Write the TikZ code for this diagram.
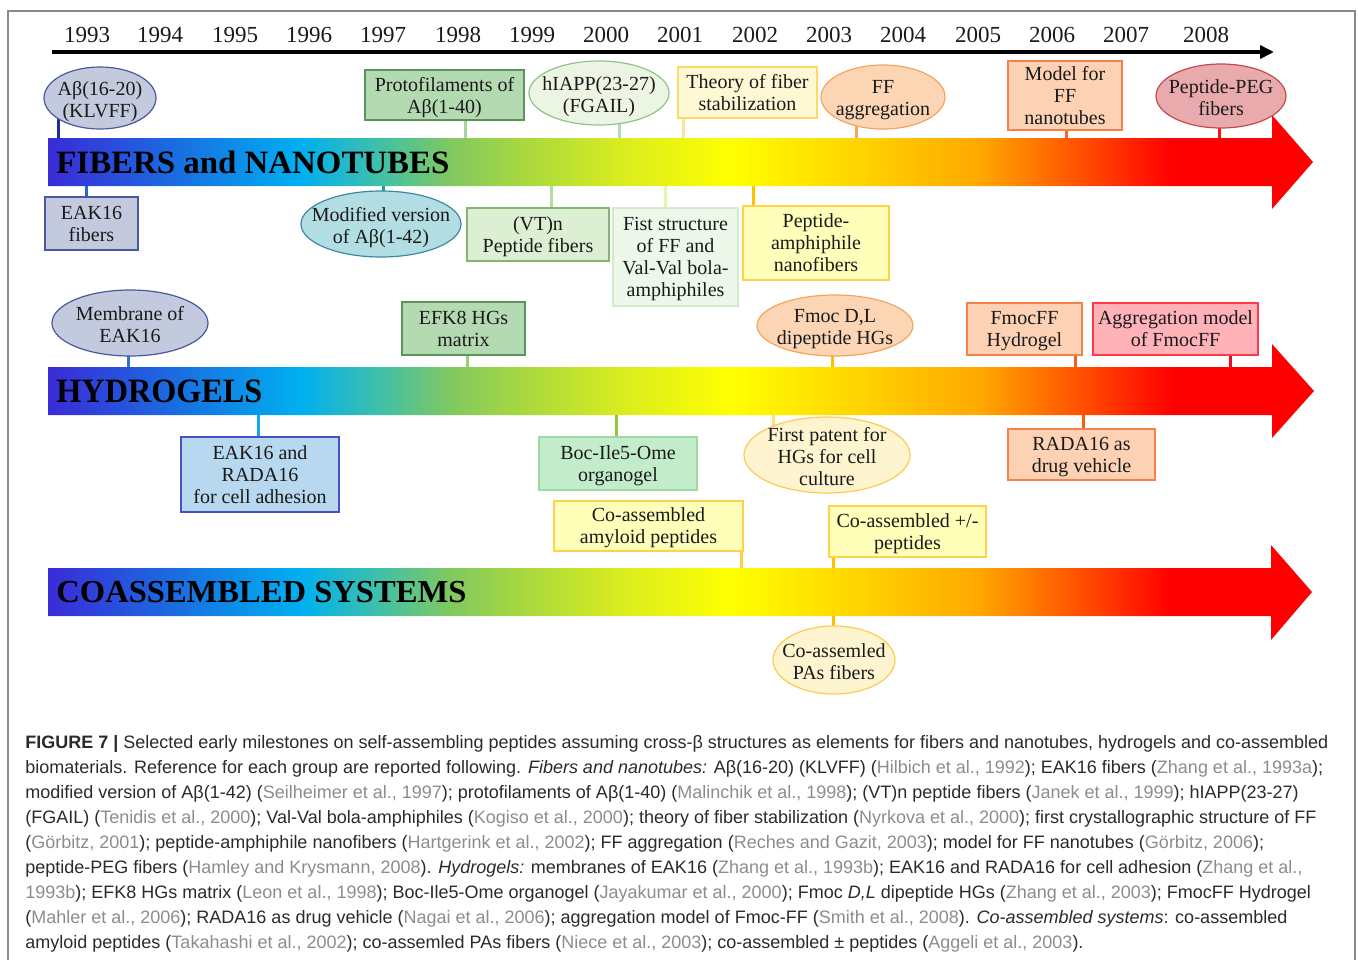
\documentclass[tikz,border=0pt]{standalone}
\usepackage{fontspec}
\setmainfont{Liberation Serif}
\newfontfamily\capsans{Liberation Sans}
\usetikzlibrary{shapes.geometric,arrows.meta,backgrounds}

\definecolor{rb0}{HTML}{3A2BD6}
\definecolor{rb1}{HTML}{1B6AE0}
\definecolor{rb2}{HTML}{00B0F0}
\definecolor{rb3}{HTML}{40C0A8}
\definecolor{rb4}{HTML}{80C860}
\definecolor{rb5}{HTML}{A8D840}
\definecolor{rb6}{HTML}{D8EC20}
\definecolor{rb7}{HTML}{FFFF00}
\definecolor{rb8}{HTML}{FFD000}
\definecolor{rb9}{HTML}{FFA800}
\definecolor{rb10}{HTML}{FF5000}
\definecolor{rb11}{HTML}{FF0000}
\pgfdeclarehorizontalshading{rainbowband}{100bp}{color(0bp)=(rb0); color(25bp)=(rb0); color(29.8bp)=(rb1); color(35bp)=(rb2); color(38.1bp)=(rb3); color(40.9bp)=(rb4); color(43.7bp)=(rb5); color(47.6bp)=(rb6); color(52bp)=(rb7); color(57.5bp)=(rb8); color(61.8bp)=(rb9); color(65.8bp)=(rb10); color(69.4bp)=(rb11); color(100bp)=(rb11)}

\definecolor{framegray}{HTML}{8A8A8A}
\definecolor{nodetext}{HTML}{1A1A1A}
\definecolor{captext}{HTML}{2A2A2A}
\definecolor{citegray}{HTML}{8C8C8C}
% node colours
\definecolor{lavfill}{HTML}{C3CADE}
\definecolor{lavdraw}{HTML}{4A58A0}
\definecolor{gfill}{HTML}{B4DAB2}
\definecolor{gdraw}{HTML}{5A945A}
\definecolor{pgfill}{HTML}{ECF5E4}
\definecolor{pgdraw}{HTML}{92C28A}
\definecolor{crfill}{HTML}{FFF8D4}
\definecolor{crdraw}{HTML}{FFD966}
\definecolor{pefill}{HTML}{FCD6B4}
\definecolor{pedraw}{HTML}{F4A460}
\definecolor{orfill}{HTML}{FDD2B4}
\definecolor{ordraw}{HTML}{F4824A}
\definecolor{pkfill}{HTML}{E8AAAC}
\definecolor{pkdraw}{HTML}{C8484C}
\definecolor{tlfill}{HTML}{B2DDE2}
\definecolor{tldraw}{HTML}{3C88A8}
\definecolor{lgfill}{HTML}{DCEFD2}
\definecolor{lgdraw}{HTML}{84B474}
\definecolor{vgfill}{HTML}{EEF8EA}
\definecolor{vgdraw}{HTML}{D2EACB}
\definecolor{yefill}{HTML}{FFFFBA}
\definecolor{yedraw}{HTML}{FFD24A}
\definecolor{rdfill}{HTML}{FFB2B8}
\definecolor{rddraw}{HTML}{FF3A48}
\definecolor{bufill}{HTML}{B8D8F0}
\definecolor{budraw}{HTML}{4450C4}
\definecolor{mgfill}{HTML}{C2ECCA}
\definecolor{mgdraw}{HTML}{A2D8A2}
\definecolor{cyfill}{HTML}{FFF4D0}
\definecolor{cydraw}{HTML}{FFCA52}
% connector colours
\definecolor{k1}{HTML}{1C2C9C}
\definecolor{k2}{HTML}{A6D49A}
\definecolor{k3}{HTML}{B6D8C0}
\definecolor{k4}{HTML}{FFE39A}
\definecolor{k5}{HTML}{F6A85A}
\definecolor{k6}{HTML}{F26A26}
\definecolor{k7}{HTML}{FF1010}
\definecolor{k8}{HTML}{2266D8}
\definecolor{k9}{HTML}{16A0A0}
\definecolor{k10}{HTML}{B4DCA6}
\definecolor{k11}{HTML}{E2F8A8}
\definecolor{k12}{HTML}{FFC000}
\definecolor{k13}{HTML}{3070D8}
\definecolor{k14}{HTML}{96D070}
\definecolor{k15}{HTML}{F26020}
\definecolor{k16}{HTML}{E81020}
\definecolor{k17}{HTML}{10A8E8}
\definecolor{k18}{HTML}{90C840}
\definecolor{k19}{HTML}{FFE07A}
\definecolor{k20}{HTML}{FF5A10}
\definecolor{k21}{HTML}{FFD040}

\newcommand{\ct}[1]{\textcolor{citegray}{#1}}
\newcommand{\linkto}[4]{\draw[connline,draw=#4] (#1.center) ++(#2,0) coordinate (ctmp) -- (ctmp |- #3);}

\begin{document}
\begin{tikzpicture}[x=0.5pt,y=-0.5pt,
  rbox/.style={draw, rectangle, line width=0.6pt, inner sep=0pt, align=center, text=nodetext, text depth=0pt, font=\fontsize{10}{11}\selectfont},
  oval/.style={draw, ellipse, line width=0.6pt, inner sep=0pt},
  lbl/.style={align=center, inner sep=0pt, text=nodetext, text depth=0pt, yshift=-0.6pt, font=\fontsize{10}{11}\selectfont},
  year/.style={inner sep=0pt, text=nodetext, font=\fontsize{11.5}{13}\selectfont},
  connline/.style={line width=1.5pt},
  band/.style={shading=rainbowband, draw=none},
  heading/.style={anchor=west, inner sep=0pt, text=black},
  capline/.style={anchor=base west, inner sep=0pt, text=captext, font=\capsans\fontsize{9}{12.5}\selectfont}]

\useasboundingbox (0,0) rectangle (1358,959);
\draw[framegray, line width=0.7pt] (8,965) -- (8,11) -- (1355,11) -- (1355,965);

% timeline
\foreach \yr/\xx in {1993/87,1994/160,1995/235,1996/309,1997/383,1998/458,1999/532,2000/606,2001/680,2002/755,2003/829,2004/903,2005/978,2006/1052,2007/1126,2008/1206}
  \node[year] (y\yr) at (\xx,35) {\yr};
\coordinate (tlS) at (52,52);
\coordinate (tlE) at (1274,52);
\draw[line width=1.8pt, -{Triangle[length=7pt,width=6.5pt]}] (tlS) -- (tlE);

% band edges
\coordinate (fibT) at (0,138); \coordinate (fibB) at (0,186);
\coordinate (hydT) at (0,367); \coordinate (hydB) at (0,415);
\coordinate (coT) at (0,568);  \coordinate (coB) at (0,616);

% bands
\path[band] (48,138) -- (1272,138) -- (1272,115) -- (1313,162) -- (1272,209) -- (1272,186) -- (48,186) -- cycle;
\path[band] (48,367) -- (1272,367) -- (1272,344) -- (1314,391) -- (1272,438) -- (1272,415) -- (48,415) -- cycle;
\path[band] (48,568) -- (1271,568) -- (1271,545) -- (1312,592) -- (1271,640) -- (1271,616) -- (48,616) -- cycle;

\node[heading] (hfib) at (56,162) {\resizebox{196.5pt}{11.3pt}{\bfseries FIBERS and NANOTUBES}};
\node[heading] (hhyd) at (56,391) {\resizebox{103pt}{11.3pt}{\bfseries HYDROGELS}};
\node[heading] (hco) at (56,592) {\resizebox{205pt}{10.6pt}{\bfseries COASSEMBLED SYSTEMS}};

% ---- fibers: above
\node[oval, fill=lavfill, draw=lavdraw, minimum width=56pt, minimum height=31pt] (ab) at (100,98) {};
\node[lbl] at (ab) {Aβ(16-20)\\(KLVFF)};
\node[rbox, fill=gfill, draw=gdraw, minimum width=79.5pt, minimum height=25pt] (proto) at (444.5,95) {Protofilaments of\\Aβ(1-40)};
\node[oval, fill=pgfill, draw=pgdraw, minimum width=70pt, minimum height=32pt] (hiapp) at (599,93) {};
\node[lbl] at (hiapp) {hIAPP(23-27)\\(FGAIL)};
\node[rbox, fill=crfill, draw=crdraw, minimum width=69.5pt, minimum height=25.5pt] (theory) at (747.5,92.5) {Theory of fiber\\stabilization};
\node[oval, fill=pefill, draw=pedraw, minimum width=62pt, minimum height=32pt] (ffagg) at (883,97) {};
\node[lbl] at (ffagg) {FF\\aggregation};
\node[rbox, fill=orfill, draw=ordraw, minimum width=57pt, minimum height=34.5pt] (model) at (1065,95.5) {Model for\\FF\\nanotubes};
\node[oval, fill=pkfill, draw=pkdraw, minimum width=65pt, minimum height=32pt] (peg) at (1221,96) {};
\node[lbl] at (peg) {Peptide-PEG\\fibers};

% ---- fibers: below
\node[rbox, fill=lavfill, draw=lavdraw, minimum width=46.5pt, minimum height=26.5pt] (eak) at (91.5,223.5) {EAK16\\fibers};
\node[oval, fill=tlfill, draw=tldraw, minimum width=80pt, minimum height=33pt] (modv) at (381,224) {};
\node[lbl] at (modv) {Modified version\\of Aβ(1-42)};
\node[rbox, fill=lgfill, draw=lgdraw, minimum width=71pt, minimum height=26.5pt] (vtn) at (538,234.5) {(VT)n\\Peptide fibers};
\node[rbox, fill=vgfill, draw=vgdraw, minimum width=62.5pt, minimum height=49pt] (fist) at (675.5,257) {Fist structure\\of FF and\\Val-Val bola-\\amphiphiles};
\node[rbox, fill=yefill, draw=yedraw, minimum width=73pt, minimum height=37pt] (pa) at (816,243) {Peptide-\\amphiphile\\nanofibers};

% ---- hydrogels: above
\node[oval, fill=lavfill, draw=lavdraw, minimum width=78pt, minimum height=33pt] (memb) at (130,323) {};
\node[lbl] at (memb) {Membrane of\\EAK16};
\node[rbox, fill=gfill, draw=gdraw, minimum width=61.5pt, minimum height=26.5pt] (efk) at (463.5,328.5) {EFK8 HGs\\matrix};
\node[oval, fill=pefill, draw=pedraw, minimum width=78pt, minimum height=30.5pt] (fmocdl) at (835,325.5) {};
\node[lbl] at (fmocdl) {Fmoc D,L\\dipeptide HGs};
\node[rbox, fill=orfill, draw=ordraw, minimum width=57.5pt, minimum height=26pt] (fmocff) at (1024.5,329) {FmocFF\\Hydrogel};
\node[rbox, fill=rdfill, draw=rddraw, minimum width=82.5pt, minimum height=26pt] (aggm) at (1175.5,329) {Aggregation model\\of FmocFF};

% ---- hydrogels: below
\node[rbox, fill=bufill, draw=budraw, minimum width=79pt, minimum height=37.5pt] (eakrada) at (260,474.5) {EAK16 and\\RADA16\\for cell adhesion};
\node[rbox, fill=mgfill, draw=mgdraw, minimum width=79pt, minimum height=26.5pt] (boc) at (618,463.5) {Boc-Ile5-Ome\\organogel};
\node[oval, fill=cyfill, draw=cydraw, minimum width=83pt, minimum height=38pt] (patent) at (827,455) {};
\node[lbl] at (patent) {First patent for\\HGs for cell\\culture};
\node[rbox, fill=orfill, draw=ordraw, minimum width=73.5pt, minimum height=25.5pt] (rada) at (1081.5,454.5) {RADA16 as\\drug vehicle};

% ---- coassembled
\node[rbox, fill=yefill, draw=yedraw, minimum width=94.5pt, minimum height=25pt] (coamy) at (648.5,526) {Co-assembled\\amyloid peptides};
\node[rbox, fill=yefill, draw=yedraw, minimum width=78.5pt, minimum height=25.5pt] (copm) at (907.5,531.5) {Co-assembled +/-\\peptides};
\node[oval, fill=cyfill, draw=cydraw, minimum width=61pt, minimum height=34pt] (copa) at (834,660) {};
\node[lbl] at (copa) {Co-assemled\\PAs fibers};

% ---- connectors
\begin{scope}[on background layer]
\linkto{ab}{-42}{fibT}{k1}
\linkto{proto}{20.5}{fibT}{k2}
\linkto{hiapp}{20}{fibT}{k3}
\linkto{theory}{-64.5}{fibT}{k4}
\linkto{ffagg}{-27}{fibT}{k5}
\linkto{model}{1}{fibT}{k6}
\linkto{peg}{-2}{fibT}{k7}
\linkto{eak}{-5.5}{fibB}{k8}
\linkto{modv}{2}{fibB}{k9}
\linkto{vtn}{13}{fibB}{k10}
\linkto{fist}{-10.5}{fibB}{k11}
\linkto{pa}{-63}{fibB}{k12}
\linkto{memb}{-2}{hydT}{k13}
\linkto{efk}{3.5}{hydT}{k14}
\linkto{fmocdl}{-3}{hydT}{k12}
\linkto{fmocff}{50.5}{hydT}{k15}
\linkto{aggm}{54.5}{hydT}{k16}
\linkto{eakrada}{-2}{hydB}{k17}
\linkto{boc}{-2}{hydB}{k18}
\linkto{patent}{-54}{hydB}{k19}
\linkto{rada}{1.5}{hydB}{k20}
\linkto{coamy}{92.5}{coT}{k21}
\linkto{copm}{-74.5}{coT}{k12}
\linkto{copa}{-1}{coB}{k12}
\end{scope}

% ---- caption
\node[capline] (cap1) at (25,748) {\textbf{FIGURE 7 |} Selected early milestones on self-assembling peptides assuming cross-β structures as elements for fibers and nanotubes, hydrogels and co-assembled};
\node[capline] (cap2) at (25,773) {biomaterials. Reference for each group are reported following. \textit{Fibers and nanotubes:} Aβ(16-20) (KLVFF) (\ct{Hilbich et al., 1992}); EAK16 fibers (\ct{Zhang et al., 1993a});};
\node[capline] (cap3) at (25,798) {modified version of Aβ(1-42) (\ct{Seilheimer et al., 1997}); protofilaments of Aβ(1-40) (\ct{Malinchik et al., 1998}); (VT)n peptide fibers (\ct{Janek et al., 1999}); hIAPP(23-27)};
\node[capline] (cap4) at (25,823) {(FGAIL) (\ct{Tenidis et al., 2000}); Val-Val bola-amphiphiles (\ct{Kogiso et al., 2000}); theory of fiber stabilization (\ct{Nyrkova et al., 2000}); first crystallographic structure of FF};
\node[capline] (cap5) at (25,848) {(\ct{Görbitz, 2001}); peptide-amphiphile nanofibers (\ct{Hartgerink et al., 2002}); FF aggregation (\ct{Reches and Gazit, 2003}); model for FF nanotubes (\ct{Görbitz, 2006});};
\node[capline] (cap6) at (25,873) {peptide-PEG fibers (\ct{Hamley and Krysmann, 2008}). \textit{Hydrogels:} membranes of EAK16 (\ct{Zhang et al., 1993b}); EAK16 and RADA16 for cell adhesion (\ct{Zhang et al.,}};
\node[capline] (cap7) at (25,898) {\ct{1993b}); EFK8 HGs matrix (\ct{Leon et al., 1998}); Boc-Ile5-Ome organogel (\ct{Jayakumar et al., 2000}); Fmoc \textit{D,L} dipeptide HGs (\ct{Zhang et al., 2003}); FmocFF Hydrogel};
\node[capline] (cap8) at (25,923) {(\ct{Mahler et al., 2006}); RADA16 as drug vehicle (\ct{Nagai et al., 2006}); aggregation model of Fmoc-FF (\ct{Smith et al., 2008}). \textit{Co-assembled systems}: co-assembled};
\node[capline] (cap9) at (25,948) {amyloid peptides (\ct{Takahashi et al., 2002}); co-assemled PAs fibers (\ct{Niece et al., 2003}); co-assembled ± peptides (\ct{Aggeli et al., 2003}).};
\end{tikzpicture}
\end{document}
